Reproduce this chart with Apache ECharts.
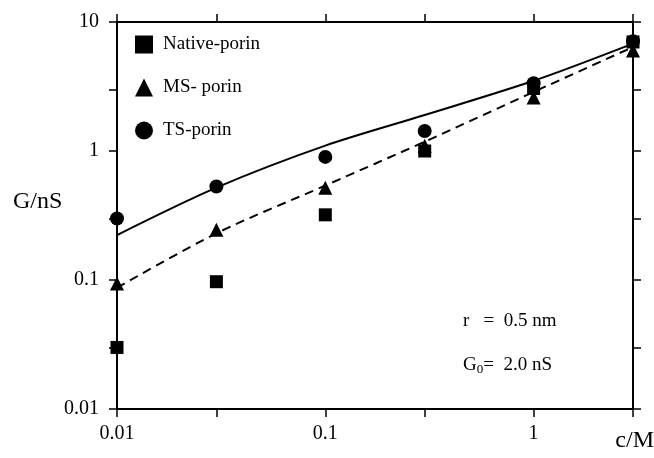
<!DOCTYPE html>
<html>
<head>
<meta charset="utf-8">
<script src="https://cdn.jsdelivr.net/npm/echarts@6/dist/echarts.min.js"></script>
<style>
  html, body { margin: 0; padding: 0; background: #fff; }
  #chart { width: 654px; height: 458px; }
</style>
</head>
<body>
<div id="chart"></div>
<script>
// concentrations (M) and conductances (nS)
const conc = [0.01, 0.03, 0.1, 0.3, 1, 3];
const nativePorin = [0.03, 0.097, 0.32, 1.0, 3.05, 7.0];
const msPorin = [0.094, 0.245, 0.52, 1.1, 2.6, 6.0];
const tsPorin = [0.30, 0.53, 0.90, 1.43, 3.35, 7.1];
// fitted curves
const fitTS = [0.223, 0.52, 1.1, 1.9, 3.5, 6.8];
const fitMS = [0.087, 0.23, 0.54, 1.18, 2.87, 6.4];
// ticks
const xTicks = [0.01, 0.03, 0.1, 0.3, 1, 3];
const xLabels = [0.01, 0.1, 1];
const yTicks = [0.01, 0.03, 0.1, 0.3, 1, 3, 10];
const yLabels = [0.01, 0.1, 1, 10];

const L = Math.log10;
const pts = (ys) => conc.map((c, i) => [L(c), L(ys[i])]);
const fmt = (v) => String(+Math.pow(10, v).toPrecision(2));

const ink = '#000';
const serif = '"Liberation Serif", "DejaVu Serif", serif';

const chart = echarts.init(document.getElementById('chart'));

// base axis settings, log10 space
function axis (min, max, ticks, labels, showLabel) {
  return {
    type: 'value',
    min: min,
    max: max,
    splitLine: { show: false },
    axisLine: { show: true, onZero: false, lineStyle: { color: ink, width: 2 } },
    axisTick: {
      show: true,
      inside: false,
      length: 8,
      customValues: ticks.map(L),
      lineStyle: { color: ink, width: 1.5 }
    },
    axisLabel: {
      show: showLabel,
      customValues: labels.map(L),
      formatter: fmt,
      color: ink,
      fontFamily: serif,
      fontSize: 20
    }
  };
}

const xBottom = Object.assign(axis(L(0.01), L(3), xTicks, xLabels, true), { position: 'bottom' });
xBottom.axisLabel.margin = 15;
const xTop = Object.assign(axis(L(0.01), L(3), xTicks, xLabels, false), { position: 'top' });
const yLeft = Object.assign(axis(L(0.01), L(10), yTicks, yLabels, true), { position: 'left' });
yLeft.axisLabel.margin = 18;
const yRight = Object.assign(axis(L(0.01), L(10), yTicks, yLabels, false), { position: 'right' });

const option = {
  backgroundColor: '#fff',
  animation: false,
  grid: { left: 117, right: 21, top: 22, bottom: 49 },
  xAxis: [xBottom, xTop],
  yAxis: [yLeft, yRight],
  legend: {
    orient: 'vertical',
    left: 130,
    top: 30,
    itemWidth: 18,
    itemHeight: 18,
    itemGap: 24,
    data: ['Native-porin', 'MS- porin', 'TS-porin'],
    textStyle: { color: ink, fontFamily: serif, fontSize: 19, padding: [0, 0, 0, 5] }
  },
  graphic: [
    { type: 'text', left: 13, top: 190, style: { text: 'G/nS', fill: ink, font: '24px ' + serif } },
    { type: 'text', right: 0, top: 429, style: { text: 'c/M', fill: ink, font: '24px ' + serif } },
    { type: 'text', left: 463, top: 312, style: { text: 'r   =  0.5 nm', fill: ink, font: '19px ' + serif } },
    {
      type: 'text', left: 463, top: 356,
      style: {
        text: 'G{s|0}=  2.0 nS',
        fill: ink,
        font: '19px ' + serif,
        rich: { s: { fontSize: 13, fontFamily: serif, fill: ink, padding: [8, 0, 0, 0] } }
      }
    }
  ],
  series: [
    {
      name: 'TS fit', type: 'line', data: pts(fitTS), smooth: 0.3,
      symbol: 'none', z: 1,
      lineStyle: { color: ink, width: 2, type: 'solid' }
    },
    {
      name: 'MS fit', type: 'line', data: pts(fitMS), smooth: 0.3,
      symbol: 'none', z: 1,
      lineStyle: { color: ink, width: 2, type: [9, 6] }
    },
    {
      name: 'Native-porin', type: 'scatter', data: pts(nativePorin),
      symbol: 'rect', symbolSize: 13, z: 3,
      itemStyle: { color: ink, opacity: 1 }
    },
    {
      name: 'MS- porin', type: 'scatter', data: pts(msPorin),
      symbol: 'triangle', symbolSize: 14, z: 3,
      itemStyle: { color: ink, opacity: 1 }
    },
    {
      name: 'TS-porin', type: 'scatter', data: pts(tsPorin),
      symbol: 'circle', symbolSize: 14, z: 3,
      itemStyle: { color: ink, opacity: 1 }
    }
  ]
};

chart.setOption(option);
</script>
</body>
</html>
